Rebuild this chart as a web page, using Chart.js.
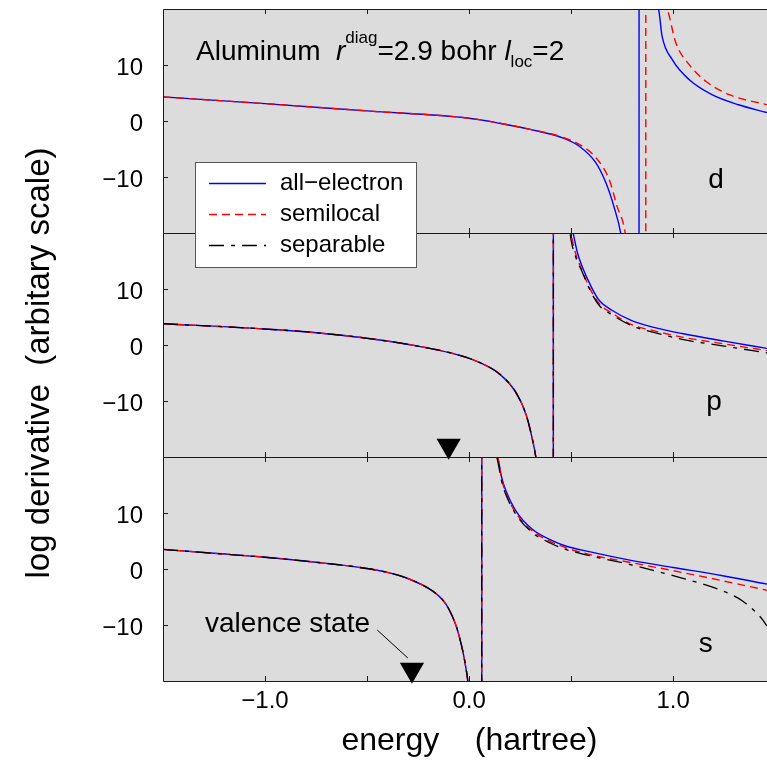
<!DOCTYPE html>
<html>
<head>
<meta charset="utf-8">
<title>Aluminum log derivatives</title>
<script src="https://cdn.jsdelivr.net/npm/chart.js@4.4.1/dist/chart.umd.min.js"></script>
<style>
  html, body { margin: 0; padding: 0; background: #ffffff; }
  #stack { position: relative; width: 767px; height: 760px; }
  #stack canvas { position: absolute; left: 0; top: 0; }
</style>
</head>
<body>
<div id="stack">
  <canvas id="sChart" width="767" height="760"></canvas>
  <canvas id="pChart" width="767" height="760"></canvas>
  <canvas id="dChart" width="767" height="760"></canvas>
</div>
<script>
// energies in hartree, log derivatives in arbitrary units
const dEnergyAE = [-1.5, -1.0, -0.5, 0.0, 0.15, 0.3, 0.45, 0.54, 0.62, 0.67, 0.71, 0.743, 0.78, 0.81, 0.832, 0.834, 0.88, 0.928, 0.946, 0.995, 1.078, 1.19, 1.32, 1.46];
const dLogAE    = [4.3, 3.1, 1.8, 0.5, -0.4, -1.5, -2.9, -4.5, -7.4, -11.0, -15.3, -20.0, -30.0, -60.0, -400, 400, 40.0, 20.0, 15.1, 11.0, 7.4, 4.7, 2.9, 1.5];
const dEnergySL = [-1.5, -1.0, -0.5, 0.0, 0.15, 0.3, 0.45, 0.55, 0.62, 0.686, 0.725, 0.765, 0.80, 0.84, 0.865, 0.867, 0.92, 0.971, 1.013, 1.078, 1.16, 1.275, 1.46];
const dLogSL    = [4.3, 3.1, 1.8, 0.5, -0.4, -1.5, -2.8, -4.4, -6.5, -10.4, -15.2, -20.0, -32.0, -80.0, -500, 500, 45.0, 20.0, 14.0, 10.1, 7.1, 4.7, 2.9];

const pEnergyAE  = [-1.5, -1.0, -0.75, -0.5, -0.25, -0.05, 0.05, 0.15, 0.23, 0.28, 0.31, 0.327, 0.36, 0.39, 0.412, 0.414, 0.46, 0.51, 0.53, 0.554, 0.6, 0.637, 0.7, 0.8, 0.9, 1.044, 1.25, 1.46];
const pLogAE     = [3.8, 2.85, 2.2, 1.2, -0.2, -1.8, -3.1, -5.2, -8.5, -12.5, -16.8, -20.0, -30.0, -70.0, -400, 400, 50.0, 20.0, 16.6, 14.0, 10.3, 8.0, 6.2, 4.3, 3.2, 2.05, 0.7, -0.6];
const pEnergySL  = [-1.5, -1.0, -0.75, -0.5, -0.25, -0.05, 0.05, 0.15, 0.23, 0.28, 0.31, 0.327, 0.36, 0.39, 0.412, 0.414, 0.46, 0.50, 0.525, 0.554, 0.595, 0.637, 0.7, 0.8, 0.9, 1.044, 1.25, 1.46];
const pLogSL     = [3.8, 2.85, 2.2, 1.2, -0.2, -1.8, -3.1, -5.2, -8.5, -12.5, -16.8, -20.0, -30.0, -70.0, -400, 400, 50.0, 20.0, 16.0, 13.3, 9.9, 7.4, 5.7, 3.6, 2.6, 1.4, 0.2, -1.0];
const pEnergySep = [-1.5, -1.0, -0.75, -0.5, -0.25, -0.05, 0.05, 0.15, 0.23, 0.28, 0.31, 0.327, 0.36, 0.39, 0.412, 0.414, 0.46, 0.495, 0.52, 0.554, 0.595, 0.637, 0.7, 0.8, 0.9, 1.044, 1.25, 1.46];
const pLogSep    = [3.8, 2.85, 2.2, 1.2, -0.2, -1.8, -3.1, -5.2, -8.5, -12.5, -16.8, -20.0, -30.0, -70.0, -400, 400, 50.0, 20.0, 16.0, 13.1, 9.6, 7.1, 5.4, 3.4, 2.3, 1.0, -0.2, -1.4];

const sEnergyAE  = [-1.5, -1.25, -1.0, -0.75, -0.54, -0.4, -0.3, -0.18, -0.13, -0.1, -0.065, -0.05, -0.03, -0.016, -0.005, 0.02, 0.05, 0.061, 0.063, 0.1, 0.139, 0.16, 0.18, 0.229, 0.31, 0.4, 0.474, 0.588, 0.8, 1.0, 1.242, 1.46];
const sLogAE     = [3.5, 2.8, 2.1, 1.2, 0.3, -0.6, -1.7, -3.9, -5.5, -7.1, -10.0, -11.8, -14.8, -17.6, -20.5, -35.0, -100, -500, 500, 40.0, 20.0, 16.3, 14.0, 10.4, 7.1, 5.2, 4.1, 3.1, 1.5, 0.27, -1.2, -2.7];
const sEnergySL  = [-1.5, -1.25, -1.0, -0.75, -0.54, -0.4, -0.3, -0.18, -0.13, -0.1, -0.065, -0.05, -0.03, -0.016, -0.005, 0.02, 0.05, 0.061, 0.063, 0.1, 0.139, 0.16, 0.18, 0.229, 0.31, 0.4, 0.474, 0.588, 0.8, 1.0, 1.242, 1.46];
const sLogSL     = [3.5, 2.8, 2.1, 1.2, 0.3, -0.6, -1.7, -3.9, -5.5, -7.1, -10.0, -11.8, -14.8, -17.6, -20.5, -35.0, -100, -500, 500, 40.0, 20.0, 16.0, 13.6, 10.0, 6.8, 4.9, 3.8, 2.6, 1.1, -0.3, -2.1, -3.8];
const sEnergySep = [-1.5, -1.25, -1.0, -0.75, -0.54, -0.4, -0.3, -0.18, -0.13, -0.1, -0.065, -0.05, -0.03, -0.016, -0.005, 0.02, 0.05, 0.061, 0.063, 0.1, 0.135, 0.16, 0.18, 0.229, 0.31, 0.4, 0.474, 0.588, 0.8, 1.0, 1.242, 1.34, 1.39, 1.437, 1.46];
const sLogSep    = [3.5, 2.8, 2.1, 1.2, 0.3, -0.6, -1.7, -3.9, -5.5, -7.1, -10.0, -11.8, -14.8, -17.6, -20.5, -35.0, -100, -500, 500, 40.0, 20.0, 15.6, 13.3, 9.8, 6.5, 4.6, 3.5, 2.4, 0.7, -1.2, -3.9, -5.7, -7.2, -9.0, -10.2];

// valence eigenvalues marked with triangles
const pValence = [-0.10];
const sValence = [-0.28];

const energyTicks = [-1.0, 0.0, 1.0];
const minorEnergyTicks = [-1.0, -0.5, 0.0, 0.5, 1.0];
const logTicks = [-10, 0, 10];
const legendLabels = ['all\u2212electron', 'semilocal', 'separable'];

const FONT = "'Liberation Sans', Arial, Helvetica, sans-serif";
Chart.defaults.font.family = FONT;
Chart.defaults.color = '#000';

const BLUE = '#0000ff', RED = '#ff0000', BLACK = '#000000';
// order: higher is drawn first, so blue sits underneath the dashed lines
const styles = [
  { color: BLUE, dash: [], width: 1.4, order: 3 },
  { color: RED, dash: [8, 5], width: 1.4, order: 2 },
  { color: BLACK, dash: [15, 7, 4, 7], width: 1.3, order: 1 }
];
const W = 767, H = 760;
const LEFT = 163;

const toMinus = (s) => String(s).replace('-', '\u2212');

function series(xs, ys, style) {
  return {
    data: xs.map((x, i) => ({ x, y: ys[i] })),
    borderColor: style.color,
    borderWidth: style.width,
    borderDash: style.dash,
    order: style.order,
    pointRadius: 0,
    cubicInterpolationMode: 'monotone',
    fill: false
  };
}

function marker(energies) {
  return {
    data: energies.map((x) => ({ x, y: -18 })),
    showLine: false,
    order: 0,
    pointStyle: 'triangle',
    pointRotation: 180,
    pointRadius: 14,
    pointBorderWidth: 0,
    pointBackgroundColor: '#000',
    pointBorderColor: '#000',
    clip: false
  };
}

const panelFrame = {
  id: 'panelFrame',
  beforeDraw(chart) {
    const { ctx, chartArea: a } = chart;
    ctx.save();
    ctx.fillStyle = '#dcdcdc';
    ctx.fillRect(a.left, a.top, a.right - a.left, a.bottom - a.top);
    ctx.restore();
  },
  afterDatasetsDraw(chart, args, opts) {
    const { ctx, chartArea: a, scales: { x, y } } = chart;
    ctx.save();
    ctx.strokeStyle = '#1a1a1a';
    ctx.lineWidth = 1;
    ctx.setLineDash([]);
    ctx.beginPath();
    ctx.moveTo(a.right, a.top + 0.5);
    ctx.lineTo(a.left + 0.5, a.top + 0.5);
    ctx.lineTo(a.left + 0.5, a.bottom + 0.5);
    ctx.lineTo(a.right, a.bottom + 0.5);
    minorEnergyTicks.forEach((v) => {
      const px = Math.round(x.getPixelForValue(v)) + 0.5;
      ctx.moveTo(px, a.top);
      ctx.lineTo(px, a.top + 5);
      ctx.moveTo(px, a.bottom);
      ctx.lineTo(px, a.bottom - 5);
    });
    logTicks.forEach((v) => {
      const py = Math.round(y.getPixelForValue(v)) + 0.5;
      ctx.moveTo(a.left, py);
      ctx.lineTo(a.left + 5, py);
    });
    ctx.stroke();

    ctx.fillStyle = '#000';
    ctx.font = `28px ${FONT}`;
    ctx.textAlign = 'center';
    ctx.textBaseline = 'middle';
    ctx.fillText(opts.letter, x.getPixelForValue(opts.at[0]), y.getPixelForValue(opts.at[1]));
    ctx.restore();
  }
};

// heading, legend and y title sit on the top canvas
const dOverlay = {
  id: 'dOverlay',
  afterDraw(chart) {
    const { ctx, chartArea: a } = chart;
    ctx.save();
    ctx.fillStyle = '#000';
    ctx.textAlign = 'left';
    ctx.textBaseline = 'alphabetic';
    let cx = a.left + 33;
    const base = a.top + 51;
    const put = (t, font, dy) => {
      ctx.font = font;
      ctx.fillText(t, cx, base + dy);
      cx += ctx.measureText(t).width;
    };
    put('Aluminum  ', `28px ${FONT}`, 0);
    put('r', `italic 28px ${FONT}`, 0);
    put('diag', `17px ${FONT}`, -17);
    put('=2.9 bohr ', `28px ${FONT}`, 0);
    put('l', `italic 28px ${FONT}`, 0);
    put('loc', `17px ${FONT}`, 7);
    put('=2', `28px ${FONT}`, 0);

    const lx = a.left + 32, ly = a.top + 153, lw = 221, lh = 105;
    ctx.fillStyle = '#ffffff';
    ctx.fillRect(lx, ly, lw, lh);
    ctx.strokeStyle = '#555555';
    ctx.lineWidth = 1;
    ctx.strokeRect(lx + 0.5, ly + 0.5, lw, lh);
    ctx.font = `24px ${FONT}`;
    ctx.textBaseline = 'middle';
    legendLabels.forEach((label, i) => {
      const rowY = ly + 21 + i * 31;
      ctx.strokeStyle = styles[i].color;
      ctx.lineWidth = styles[i].width;
      ctx.setLineDash(styles[i].dash);
      ctx.beginPath();
      ctx.moveTo(lx + 14, rowY + 0.5);
      ctx.lineTo(lx + 71, rowY + 0.5);
      ctx.stroke();
      ctx.fillStyle = '#000';
      ctx.fillText(label, lx + 85, rowY);
    });
    ctx.setLineDash([]);

    ctx.translate(40, 363);
    ctx.rotate(-Math.PI / 2);
    ctx.textAlign = 'center';
    ctx.font = `33px ${FONT}`;
    ctx.fillText('log derivative  (arbitary scale)', 0, 0);
    ctx.restore();
  }
};

const sOverlay = {
  id: 'sOverlay',
  afterDraw(chart) {
    const { ctx, scales: { x, y } } = chart;
    ctx.save();
    ctx.fillStyle = '#000';
    ctx.font = `28px ${FONT}`;
    ctx.textAlign = 'left';
    ctx.textBaseline = 'middle';
    ctx.fillText('valence state', x.getPixelForValue(-1.294), y.getPixelForValue(-9.8));
    ctx.strokeStyle = '#000';
    ctx.lineWidth = 1;
    ctx.beginPath();
    ctx.moveTo(x.getPixelForValue(-0.45), y.getPixelForValue(-10.9));
    ctx.lineTo(x.getPixelForValue(-0.30), y.getPixelForValue(-15.9));
    ctx.stroke();
    ctx.restore();
  }
};

function makePanel(id, top, bottom, datasets, letter, at, extra, showX) {
  return new Chart(document.getElementById(id), {
    type: 'line',
    data: { datasets },
    options: {
      responsive: false,
      animation: false,
      events: [],
      layout: { autoPadding: false, padding: { left: 0, right: 0, top, bottom: showX ? 0 : H - bottom } },
      plugins: {
        legend: { display: false },
        tooltip: { enabled: false },
        panelFrame: { letter, at }
      },
      scales: {
        x: {
          type: 'linear', min: -1.5, max: 1.46, display: showX,
          grid: { display: false, drawTicks: false },
          border: { display: false },
          afterBuildTicks: (s) => { s.ticks = energyTicks.map((v) => ({ value: v })); },
          afterFit: (s) => {
            if (showX) s.height = H - bottom;
            s.paddingLeft = 0; s.paddingRight = 0;
          },
          ticks: { font: { size: 24 }, padding: 6, maxRotation: 0, callback: (v) => toMinus(v.toFixed(1)) },
          title: { display: showX, text: ' energy    (hartree)', font: { size: 32 }, padding: { top: 0, bottom: 0 } }
        },
        y: {
          type: 'linear', min: -20, max: 20,
          grid: { display: false, drawTicks: false },
          border: { display: false },
          afterBuildTicks: (s) => { s.ticks = logTicks.map((v) => ({ value: v })); },
          afterFit: (s) => { s.width = LEFT; s.paddingTop = 0; s.paddingBottom = 0; },
          ticks: { font: { size: 24 }, padding: 20, labelOffset: 3, callback: (v) => toMinus(v) }
        }
      }
    },
    plugins: [panelFrame].concat(extra ? [extra] : [])
  });
}

makePanel('sChart', 457, 681, [
  series(sEnergyAE, sLogAE, styles[0]),
  series(sEnergySL, sLogSL, styles[1]),
  series(sEnergySep, sLogSep, styles[2]),
  marker(sValence)
], 's', [1.16, -13.4], sOverlay, true);

makePanel('pChart', 233, 457, [
  series(pEnergyAE, pLogAE, styles[0]),
  series(pEnergySL, pLogSL, styles[1]),
  series(pEnergySep, pLogSep, styles[2]),
  marker(pValence)
], 'p', [1.2, -10.2], null, false);

makePanel('dChart', 9, 233, [
  series(dEnergyAE, dLogAE, styles[0]),
  series(dEnergySL, dLogSL, styles[1])
], 'd', [1.21, -10.5], dOverlay, false);
</script>
</body>
</html>
